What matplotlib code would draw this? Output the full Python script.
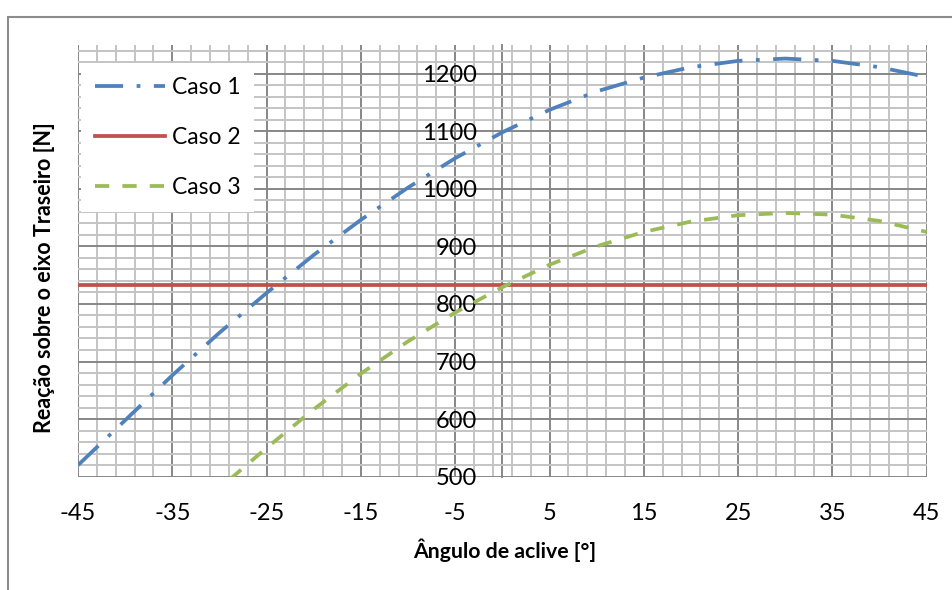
import matplotlib
matplotlib.use("Agg")
import matplotlib.pyplot as plt
from matplotlib.ticker import MultipleLocator, FixedLocator
from matplotlib.patches import Rectangle

plt.rcParams['font.family'] = ['Lato', 'DejaVu Sans']
plt.rcParams['axes.unicode_minus'] = False

# ---- data ----
angulo = [-45, -40, -35, -30, -25, -20, -15, -10, -5, 0, 5, 10, 15, 20, 25, 30, 35, 40, 45]
caso1 = [520, 598, 676, 750, 819, 885, 946, 1002, 1053, 1098, 1137, 1169, 1193, 1211, 1222, 1226, 1222, 1211, 1194]
caso2 = [832] * len(angulo)
caso3 = [247, 327, 405, 480, 550, 617, 679, 735, 785, 829, 868, 900, 925, 943, 954, 958, 955, 944, 925]
x_ticks = [-45, -35, -25, -15, -5, 5, 15, 25, 35, 45]
x_tick_labels = ['-45', '-35', '-25', '-15', '-5', '5', '15', '25', '35', '45']
y_ticks = [500, 600, 700, 800, 900, 1000, 1100, 1200]
y_tick_labels = ['500', '600', '700', '800', '900', '1000', '1100', '1200']
series_names = ['Caso 1', 'Caso 2', 'Caso 3']

W, H = 953, 590
fig = plt.figure(figsize=(W / 100, H / 100), dpi=100)
L, R, T, B = 78, 926.7, 44.75, 476.7
ax = fig.add_axes([L / W, 1 - B / H, (R - L) / W, (B - T) / H])

blue = '#4F81BD'
red = '#C0504D'
green = '#9BBB59'
lw = 2.7

ax.plot(angulo, caso1, color=blue, lw=lw, dashes=(7.5, 3.6, 1, 3.6), label=series_names[0])
ax.plot(angulo, caso2, color=red, lw=lw, label=series_names[1])
ax.plot(angulo, caso3, color=green, lw=lw, dashes=(3.8, 3.5), label=series_names[2])

ax.set_xlim(-45, 45)
ax.set_ylim(500, 1250)
ax.xaxis.set_major_locator(FixedLocator(x_ticks))
ax.set_xticklabels(x_tick_labels)
ax.xaxis.set_minor_locator(MultipleLocator(2, offset=1))
ax.yaxis.set_major_locator(FixedLocator(y_ticks))
ax.set_yticklabels(y_tick_labels)
ax.yaxis.set_minor_locator(MultipleLocator(20))

ax.set_axisbelow(True)
ax.grid(which='major', color='#878787', lw=1.4)
ax.grid(which='minor', color='#C4C4C4', lw=1.4)

for s in ['top', 'right', 'bottom']:
    ax.spines[s].set_visible(False)
ax.spines['left'].set_position(('data', 0))
ax.spines['left'].set_color('#878787')
ax.spines['left'].set_linewidth(1.4)
ax.spines['left'].set_zorder(0.5)

ax.tick_params(axis='both', which='both', length=0)
ax.tick_params(axis='y', labelsize=17, pad=18)
ax.tick_params(axis='x', labelsize=17, pad=19)

fig.text(45 / W, 1 - 278 / H, 'Reação sobre o eixo Traseiro [N]', rotation=90,
         ha='center', va='center', fontsize=15.5, fontweight='bold')
fig.text(505 / W, 1 - 550 / H, 'Ângulo de aclive [°]', ha='center', va='center',
         fontsize=15.3, fontweight='bold')

leg = ax.legend(loc='upper left', bbox_to_anchor=(81 / W, 1 - 63 / H),
                bbox_transform=fig.transFigure, borderaxespad=0, fontsize=16.5,
                handlelength=3.05, labelspacing=1.28, handletextpad=0.3,
                borderpad=0.6, fancybox=False, framealpha=1,
                facecolor='white', edgecolor='none')

fig.patches.append(Rectangle((8 / W, -0.1), 1.2, 1 - 16.5 / H + 0.1,
                             transform=fig.transFigure, fill=False,
                             edgecolor='#8C8C8C', lw=1.5))

fig.savefig('out.png', dpi=100)
